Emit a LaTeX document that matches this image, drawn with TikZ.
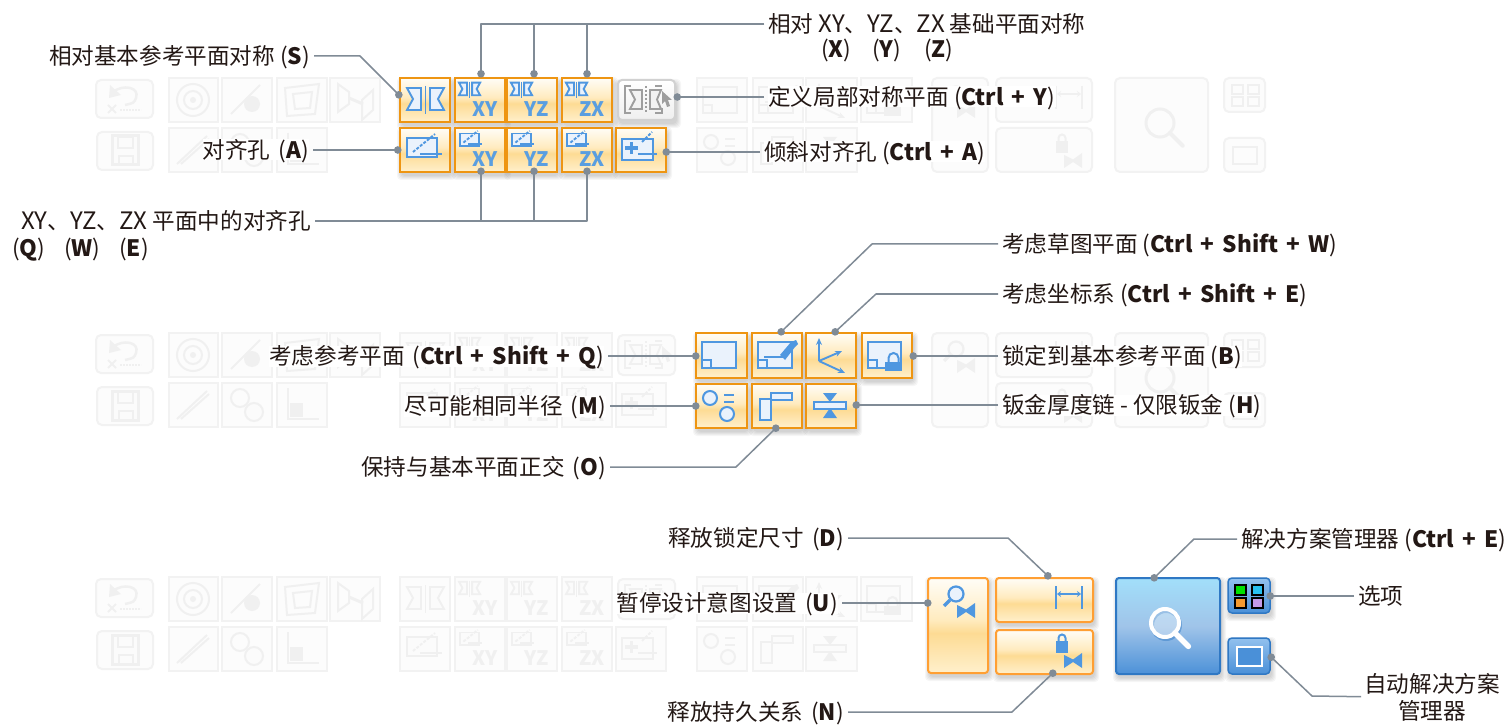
\documentclass[tikz,border=0pt]{standalone}
\usepackage{fontspec}
\setmainfont{Noto Sans CJK SC}
\usetikzlibrary{arrows.meta,calc}
\pgfdeclarelayer{ghostl}\pgfdeclarelayer{shadl}\pgfsetlayers{ghostl,shadl,main}
\definecolor{txt}{HTML}{231815}
\definecolor{lnk}{HTML}{808B96}
\definecolor{orb}{HTML}{EE9512}
\definecolor{orc}{HTML}{FF9F33}
\definecolor{blb}{HTML}{2F78C4}
\colorlet{icS}{white}\colorlet{icF}{white}\colorlet{icT}{white}
\definecolor{oa}{HTML}{FFF0CC}\definecolor{ob}{HTML}{FDDB94}\definecolor{oc}{HTML}{FFEBBF}\definecolor{od}{HTML}{FFFDF7}
\definecolor{ba}{HTML}{4C91D8}\definecolor{bb}{HTML}{A0C4E9}\definecolor{bc}{HTML}{A2DFFA}
\definecolor{sa}{HTML}{4A90D8}\definecolor{sb}{HTML}{92C1EE}
\definecolor{ga}{HTML}{EFEFEF}\definecolor{gb}{HTML}{FFFFFF}
\pgfdeclareverticalshading{orsh}{100bp}{color(0bp)=(oa);color(25bp)=(oa);color(46bp)=(ob);color(53bp)=(oc);color(75bp)=(od);color(100bp)=(od)}
\pgfdeclareverticalshading{blsh}{100bp}{color(0bp)=(ba);color(25bp)=(ba);color(50bp)=(bb);color(75bp)=(bc);color(100bp)=(bc)}
\pgfdeclareverticalshading{smsh}{100bp}{color(0bp)=(sa);color(25bp)=(sa);color(75bp)=(sb);color(100bp)=(sb)}
\pgfdeclareverticalshading{grsh}{100bp}{color(0bp)=(ga);color(25bp)=(ga);color(75bp)=(gb);color(100bp)=(gb)}
\tikzset{
  lab/.style={inner sep=0pt,fill=white,text=txt,font=\fontsize{22.6}{26}\selectfont,text height=19pt,text depth=2pt},
  conn/.style={draw=lnk,line width=1.5pt,line join=round,shorten <=4pt,shorten >=-3.5pt,-{Circle[length=7.5pt,width=7.5pt]}},
  orbtn/.style={inner sep=0pt,outer sep=0pt,shading=orsh,draw=orb,line width=2pt},
  softbtn/.style={inner sep=0pt,outer sep=0pt,shading=orsh,draw=orc,line width=2pt,rounded corners=3pt},
  grybtn/.style={inner sep=0pt,outer sep=0pt,shading=grsh,draw=black!18,line width=2pt,rounded corners=4pt},
  blubtn/.style={inner sep=0pt,outer sep=0pt,shading=blsh,draw=blb,line width=2pt,rounded corners=3pt},
  smlbtn/.style={inner sep=0pt,outer sep=0pt,shading=smsh,draw=blb,line width=1.5pt,rounded corners=4pt},
  ico/.style={draw=icS,fill=icF,line width=1.9pt,line join=miter},
  icl/.style={draw=icS,line width=1.9pt},
  icb/.style={fill=icS,draw=none},
  xyt/.style={inner sep=0pt,text=icT,font=\fontsize{20}{20}\selectfont\bfseries},
  ghost/.style={draw=black!5,fill=black!1.2,line width=2pt},
  ghostr/.style={ghost,rounded corners=5pt},
}
\newcommand\bk[1]{\textbf{\spaceskip=.36em\relax #1}}
\newcommand\lat[1]{{\fontsize{24}{26}\selectfont #1}}
\newcommand\gapk{\kern3pt\relax}
\newcommand\lab[5]{\node[lab,anchor=#2] (#1) at (#3,#4) {#5};}
\newcommand\at[3]{\begin{scope}[shift={(#1,#2)}]#3\end{scope}}
\newcommand\mybtn[6]{%
  \begin{pgfonlayer}{shadl}
  \foreach \k in {1,...,5}{\fill[black,opacity=.035,rounded corners=4pt] ({#2-\k+2},{#3-\k+4}) rectangle ({#4+\k+1},{#5+\k+3});}
  \end{pgfonlayer}
  \node[#6,minimum width={(#4-#2)*1pt},minimum height={(#5-#3)*1pt}] (#1) at ({(#2+#4)/2},{(#3+#5)/2}) {};}
\newcommand\gb[4]{\draw[ghost] (#1,#2) rectangle (#3,#4);}
\newcommand\gr[4]{\draw[ghostr] (#1,#2) rectangle (#3,#4);}
% icons (origin: top-left corner of the button)
\newcommand\isym{\draw[ico] (7,10)--(21,10)--(21,32)--(7,32)--(13,21)--cycle;
  \draw[ico] (30,10)--(44,10)--(38,21)--(44,32)--(30,32)--cycle;\draw[icl] (25.5,8)--(25.5,36);}
\newcommand\ismall{\begin{scope}[shift={(0,-1)},scale=.57]\isym\end{scope}}
\newcommand\ipl{\draw[ico] (7,10) rectangle (37,29);\draw[icl] (20,26)--(42,26);\draw[icl,dash pattern=on 3pt off 1.5pt] (13,24)--(35,6);}
\newcommand\iplsmall{\begin{scope}[shift={(0,-1)},scale=.65]\ipl\end{scope}}
\newcommand\ixy[1]{\node[xyt] (tag#1) at (30,31) {#1};}
\newcommand\iplus{\draw[ico] (6,11) rectangle (37,32);\draw[icl,line width=3.4pt] (9,20)--(22,20);\draw[icl,line width=3.4pt] (15.5,14)--(15.5,26);
  \draw[icl] (22,26)--(41,26);\draw[icl,dash pattern=on 3pt off 1.5pt] (26,14)--(36,4);}
\newcommand\ilocal{\draw[icl] (13,6)--(7,6)--(7,33)--(13,33) (37,6)--(44,6) (37,33)--(44,33)--(44,28);
  \draw[ico] (12,10)--(24,10)--(24,29)--(12,29)--(17,19.5)--cycle;\draw[ico] (32,10)--(43,10)--(39,19.5)--(43,29)--(32,29)--cycle;
  \draw[icl,dash pattern=on 2pt off 2pt] (28,6)--(28,32);\fill[icS] (44,11)--(54,20)--(50,20)--(52,26)--(49,27)--(47,21)--(44,24)--cycle;}
\newcommand\irect{\draw[ico] (6,9) rectangle (40,35);\draw[ico] (6,27) rectangle (15,35);}
\newcommand\isk{\irect\draw[icl] (12,24)--(33,24);\fill[icS] (33,27)--(28,22)--(39,9)--(44,7)--(46,11)--(43,14)--cycle;}
\newcommand\iax{\draw[icS,line width=1.9pt,-{Stealth[length=7pt,width=6pt]}] (13,28)--(13,5);
  \draw[icS,line width=1.9pt,-{Stealth[length=7pt,width=6pt]}] (13,28)--(36,18);
  \draw[icS,line width=1.9pt,-{Stealth[length=7pt,width=6pt]}] (13,28)--(39,40);}
\newcommand\ilk{\draw[ico] (6,9) rectangle (39,35);\draw[ico] (6,27) rectangle (15,35);
  \fill[icS] (23,29) rectangle (40,38);\draw[icS,line width=2pt] (26.5,29)--(26.5,25) arc (180:360:5)--(36.5,29);}
\newcommand\irad{\draw[ico,line width=2pt] (14,14) circle (7);\draw[ico,line width=2pt] (31,30) circle (7);\draw[icl,line width=2pt] (28,11)--(38,11) (28,18)--(38,18);}
\newcommand\iort{\draw[ico] (8,15) rectangle (19,36);\draw[ico] (19,9) rectangle (40,16);}
\newcommand\ithk{\fill[icS] (17,9)--(31,9)--(24,18)--cycle (24,24)--(31,34)--(17,34)--cycle;\draw[ico] (8,18) rectangle (40,25);}
\newcommand\ibow{\fill[icS] (0,2)--(9,6.5)--(18,0)--(18,15)--(9,9)--(0,15)--cycle;}
\newcommand\ipau{\draw[icS,line width=2.2pt,fill=icF] (28,16) circle (7.5);\draw[icS,line width=3.4pt] (22,22)--(16,28);\at{29}{25}{\ibow}}
\newcommand\idim{\draw[icl] (0,0)--(0,23) (26,0)--(26,23);\draw[icS,line width=1.5pt,{Stealth[length=4pt,width=6pt]}-{Stealth[length=4pt,width=6pt]}] (1,8)--(25,8);}
\newcommand\ilb{\fill[icS] (0,11) rectangle (12,23);\draw[icS,line width=2pt] (2.5,11)--(2.5,8) arc (180:360:3.5)--(9.5,11);\at{8}{23}{\ibow}}
\newcommand\imag[4]{\draw[#3,line width=#4] (0,0) circle (#1);\draw[#3,line width={#4*1.4},line cap=round] (45:#1)--(45:#2);}
% ghost groups (drawn for the row whose top is 78)
\newcommand\ghostA{
  \gr{96}{80}{153}{118}\gr{97}{132}{153}{170}
  \gb{169}{78}{218}{122}\gb{222}{78}{272}{122}\gb{277}{78}{327}{122}\gb{330}{78}{380}{122}
  \gb{169}{128}{218}{172}\gb{222}{128}{272}{172}\gb{277}{128}{327}{172}
  \at{96}{80}{\draw[icl,line width=2.5pt] (17,12) .. controls (27,4) and (44,7) .. (40,18) .. controls (38,23) .. (29,25);\fill[icS] (14,5)--(13,18)--(25,15)--cycle;
     \draw[icl,line width=2pt] (12,25)--(20,33) (20,25)--(12,33);\draw[icl,dash pattern=on 2pt off 1pt] (24,30)--(45,30);}
  \at{97}{132}{\draw[ico,line width=3pt] (15,4) rectangle (41,33);\draw[icl,line width=2pt] (21,5) rectangle (36,16);\draw[icl,line width=2pt] (22,24) rectangle (36,33);}
  \at{169}{78}{\draw[icl,line width=2pt] (24,22) circle (16) circle (9);\fill[icS] (24,22) circle (3);}
  \at{222}{78}{\draw[icl,line width=2pt] (9,36)--(38,7);\fill[icS] (30,26) circle (8);}
  \at{277}{78}{\draw[icl,line width=2pt] (8,10)--(42,6)--(38,36)--(10,38)--cycle;\draw[icl,line width=2pt] (16,16)--(35,14)--(33,30)--(18,31)--cycle;}
  \at{330}{78}{\draw[icl,line width=2pt] (8,6)--(19,14)--(19,26)--(8,34)--cycle (43,12)--(32,22)--(32,42)--(43,32)--cycle;\draw[icS,line width=3pt] (19,20)--(33,26);}
  \at{169}{128}{\draw[icl,line width=2pt] (8,36)--(38,8) (12,36)--(40,11);}
  \at{222}{128}{\draw[icl,line width=2pt] (18,15) circle (9);\draw[ico,line width=2pt] (32,29) circle (9);}
  \at{277}{128}{\draw[icl,line width=2pt] (11,5)--(11,36)--(42,36);\fill[icS] (13,20) rectangle (26,34);}
}
\newcommand\ghostB{
  \foreach \x/\y in {400/450,455/505,507/557,562/612}{\gb{\x}{78}{\y}{122}\gb{\x}{128}{\y}{172}}
  \gr{618}{80}{675}{120}\gb{616}{128}{666}{172}
  \at{400}{78}{\isym}\at{455}{78}{\ismall\ixy{XY}}\at{507}{78}{\ismall\ixy{YZ}}\at{562}{78}{\ismall\ixy{ZX}}\at{618}{80}{\ilocal}
  \at{400}{128}{\ipl}\at{455}{128}{\iplsmall\ixy{XY}}\at{507}{128}{\iplsmall\ixy{YZ}}\at{562}{128}{\iplsmall\ixy{ZX}}\at{616}{128}{\iplus}
}
\newcommand\ghostC{
  \gb{697}{78}{747}{122}\gb{753}{78}{803}{122}\gb{806}{78}{857}{122}\gb{861}{78}{912}{122}
  \gb{697}{128}{747}{172}\gb{753}{128}{803}{172}\gb{806}{128}{857}{172}
  \at{697}{78}{\irect}\at{753}{78}{\isk}\at{806}{78}{\iax}\at{861}{78}{\ilk}
  \at{697}{128}{\irad}\at{753}{128}{\iort}\at{806}{128}{\ithk}
}
\newcommand\ghostD{
  \gr{932}{78}{988}{172}\gr{996}{78}{1092}{122}\gr{996}{128}{1092}{172}
  \at{928}{78}{\ipau}\at{1056}{86}{\idim}\at{1056}{130}{\ilb}
}
\newcommand\ghostE{
  \gr{1115}{78}{1208}{172}\gr{1224}{78}{1265}{112}\gr{1224}{138}{1265}{172}
  \at{1160}{123}{\imag{14}{32}{icS}{3pt}}
  \foreach \x in {1232,1248}{\foreach \y in {85,97}{\draw[icl,line width=2pt] (\x,\y) rectangle ++(11,9);}}
  \draw[icl,line width=2.5pt] (1233,147) rectangle (1257,164);
}
\begin{document}
\begin{tikzpicture}[x=1pt,y=-1pt]
\useasboundingbox (0,0) rectangle (1512,727);
\begin{pgfonlayer}{ghostl}
\fill[white] (0,0) rectangle (1512,727);
\colorlet{icS}{black!6}\colorlet{icF}{black!1.5}\colorlet{icT}{black!6}
\ghostA\ghostC\ghostD\ghostE
\begin{scope}[shift={(0,255)}]\ghostA\ghostB\ghostD\ghostE\end{scope}
\begin{scope}[shift={(0,499)}]\ghostA\ghostB\ghostC\end{scope}
\end{pgfonlayer}
\colorlet{icS}{black!38}\colorlet{icF}{black!5}\colorlet{icT}{black!38}
\mybtn{local}{618}{80}{675}{120}{grybtn}\at{618}{80}{\ilocal}
\definecolor{icS}{HTML}{4F97E0}\definecolor{icF}{HTML}{EAF2FC}\definecolor{icT}{HTML}{5A9EE0}
% top group
\mybtn{sym}{400}{78}{450}{122}{orbtn}\at{400}{78}{\isym}
\mybtn{sxy}{455}{78}{505}{122}{orbtn}\at{455}{78}{\ismall\ixy{XY}}
\mybtn{syz}{507}{78}{557}{122}{orbtn}\at{507}{78}{\ismall\ixy{YZ}}
\mybtn{szx}{562}{78}{612}{122}{orbtn}\at{562}{78}{\ismall\ixy{ZX}}
\mybtn{hol}{400}{128}{450}{172}{orbtn}\at{400}{128}{\ipl}
\mybtn{hxy}{455}{128}{505}{172}{orbtn}\at{455}{128}{\iplsmall\ixy{XY}}
\mybtn{hyz}{507}{128}{557}{172}{orbtn}\at{507}{128}{\iplsmall\ixy{YZ}}
\mybtn{hzx}{562}{128}{612}{172}{orbtn}\at{562}{128}{\iplsmall\ixy{ZX}}
\mybtn{hti}{616}{128}{666}{172}{orbtn}\at{616}{128}{\iplus}
% middle group
\mybtn{pref}{696}{333}{747}{378}{orbtn}\at{696}{333}{\irect}
\mybtn{psk}{752}{333}{802}{378}{orbtn}\at{752}{333}{\isk}
\mybtn{pax}{806}{333}{856}{378}{orbtn}\at{806}{333}{\iax}
\mybtn{plk}{862}{333}{912}{378}{orbtn}\at{862}{333}{\ilk}
\mybtn{prd}{696}{384}{747}{428}{orbtn}\at{696}{384}{\irad}
\mybtn{por}{752}{384}{802}{428}{orbtn}\at{752}{384}{\iort}
\mybtn{pth}{806}{384}{856}{428}{orbtn}\at{806}{384}{\ithk}
% bottom group
\mybtn{pau}{928}{578}{988}{673}{softbtn}\at{928}{578}{\ipau}
\mybtn{dim}{996}{578}{1093}{622}{softbtn}\at{1056}{586}{\idim}
\mybtn{lkr}{996}{630}{1093}{674}{softbtn}\at{1056}{630}{\ilb}
\mybtn{sol}{1116}{578}{1220}{674}{blubtn}
\at{1165}{623}{\draw[blb,opacity=.45,line width=4pt] (1,2) circle (14);\fill[white,opacity=.3] (0,0) circle (13);\imag{14}{33}{white}{4pt}}
\mybtn{opt}{1228}{578}{1270}{613}{smlbtn}
\foreach \x/\y/\c in {1235/585/00E000,1252/585/28C0F0,1235/598/F59A30,1252/598/C59AE8}{\definecolor{sq}{HTML}{\c}\draw[black,line width=1.5pt,fill=sq] (\x,\y) rectangle ++(11,10);}
\mybtn{aut}{1228}{638}{1270}{674}{smlbtn}
\draw[white,line width=1.6pt,fill=sa] (1237,647) rectangle (1262,666);
% labels
\lab{l1}{east}{310}{56}{相对基本参考平面对称 (\bk{S})}
\lab{l2}{west}{768}{24}{相对 \lat{XY}、\lat{YZ}、\lat{ZX} 基础平面对称}
\lab{l2x}{west}{821}{49}{(\bk{X})}\lab{l2y}{west}{872}{49}{(\bk{Y})}\lab{l2z}{west}{924}{49}{(\bk{Z})}
\lab{l3}{west}{768}{97}{定义局部对称平面 (\bk{Ctrl + Y})}
\lab{l4}{east}{309}{150}{对齐孔\gapk{} (\bk{A})}
\lab{l5}{west}{764}{152}{倾斜对齐孔 (\bk{Ctrl + A})}
\lab{l6}{east}{311}{221}{\lat{XY}、\lat{YZ}、\lat{ZX} 平面中的对齐孔}
\lab{l6q}{west}{12}{248}{(\bk{Q})}\lab{l6w}{west}{64}{248}{(\bk{W})}\lab{l6e}{west}{119}{248}{(\bk{E})}
\lab{l7}{west}{1002}{244}{考虑草图平面 (\bk{Ctrl + Shift + W})}
\lab{l8}{west}{1002}{294}{考虑坐标系 (\bk{Ctrl + Shift + E})}
\lab{l9}{east}{604}{356}{考虑参考平面\gapk{} (\bk{Ctrl + Shift + Q})}
\lab{l10}{west}{1002}{356}{锁定到基本参考平面 (\bk{B})}
\lab{l11}{east}{606}{406}{尽可能相同半径\gapk{} (\bk{M})}
\lab{l12}{west}{1002}{405}{钣金厚度链 - 仅限钣金 (\bk{H})}
\lab{l13}{east}{606}{467}{保持与基本平面正交\gapk{} (\bk{O})}
\lab{l14}{east}{844}{538}{释放锁定尺寸\gapk{} (\bk{D})}
\lab{l15}{east}{838}{603}{暂停设计意图设置\gapk{} (\bk{U})}
\lab{l16}{east}{844}{712}{释放持久关系\gapk{} (\bk{N})}
\lab{l17}{west}{1241}{539}{解决方案管理器 (\bk{Ctrl + E})}
\lab{l18}{west}{1358}{596}{选项}
\lab{l19a}{center}{1432}{684}{自动解决方案}
\lab{l19b}{center}{1432}{711}{管理器}
% connector dot positions
\coordinate (d2a) at ($(sxy.north)+(1,-4)$);
\coordinate (d2b) at ($(syz.north)+(2,-4)$);
\coordinate (d2c) at ($(szx.north)+(0,-4)$);
\coordinate (d6a) at ($(hxy.south)+(1,-1)$);
\coordinate (d6b) at ($(hyz.south)+(2,-1)$);
\coordinate (d6c) at ($(hzx.south)+(0,-1)$);
\coordinate (e19) at ($(l19a.west |- l19a.south)+(-3,2)$);
% connectors
\draw[conn] (l1.east) -- ++(50,0) -- ($(sym.west)+(-1,-5)$);
\draw[conn] (l2.west) -- (l2.west -| d2a) -- (d2a);
\draw[conn] (l2.west) -- (l2.west -| d2b) -- (d2b);
\draw[conn] (l2.west) -- (l2.west -| d2c) -- (d2c);
\draw[conn] (l3.west) -- ($(local.east)+(2,-3)$);
\draw[conn] (l4.east) -- ($(hol.west)+(-2,0)$);
\draw[conn] (l5.west) -- (hti.east |- l5.west);
\draw[conn] (l6.east) -- (l6.east -| d6a) -- (d6a);
\draw[conn] (l6.east) -- (l6.east -| d6b) -- (d6b);
\draw[conn] (l6.east) -- (l6.east -| d6c) -- (d6c);
\draw[conn] (l7.west) -- (872,244) -- ($(psk.north)+(4,-1)$);
\draw[conn] (l8.west) -- (876,294) -- ($(pax.north)+(4,-1)$);
\draw[conn] (l9.east) -- (pref.west |- l9.east);
\draw[conn] (l10.west) -- ($(plk.east |- l10.west)+(1,0)$);
\draw[conn] (l11.east) -- (prd.west |- l11.east);
\draw[conn] (l12.west) -- (pth.east |- l12.west);
\draw[conn] (l13.east) -- (736,467) -- ($(por.south)+(-1,0)$);
\draw[conn] (l14.east) -- (1008,538) -- ($(dim.north)+(3.5,-2)$);
\draw[conn] (l15.east) -- (pau.west |- l15.east);
\draw[conn] (l16.east) -- (1012,712) -- ($(lkr.south)+(8.5,-1)$);
\draw[conn] (l17.west) -- (1194,539) -- ($(sol.north)+(-14,0)$);
\draw[conn] (l18.west) -- (opt.east |- l18.west);
\draw[conn,shorten <=0pt] (e19) -- (1312,696) -- ($(aut.east)+(1,1)$);
\end{tikzpicture}
\end{document}
